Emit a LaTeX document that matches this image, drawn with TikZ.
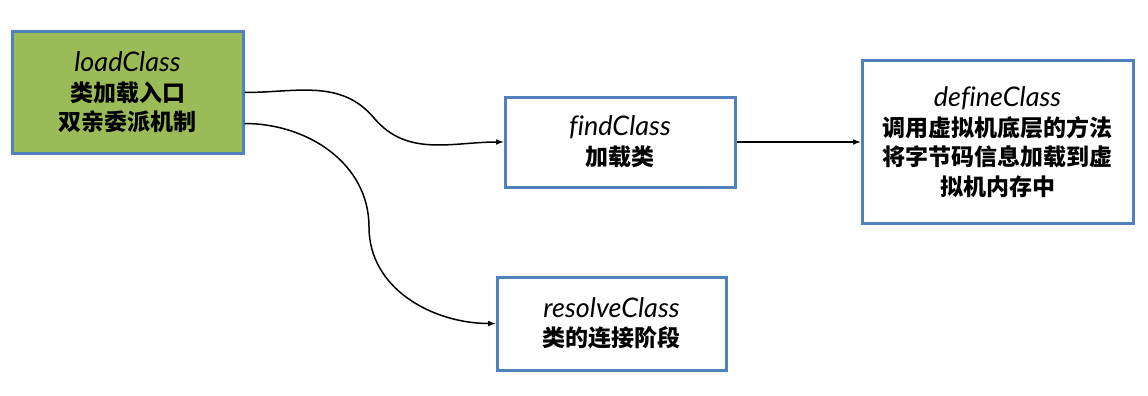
\documentclass[tikz,border=0pt]{standalone}
\usepackage{fontspec}
\newfontfamily\cjk{Noto Sans CJK SC}
\newfontfamily\latinf{Lato}[Ligatures=NoCommon]
\definecolor{boxblue}{HTML}{4F81BD}
\definecolor{boxgreen}{HTML}{9BBB59}
\tikzset{
 box/.style={draw=boxblue,line width=3pt,fill=white,align=center,inner sep=2pt,
  font=\fontsize{23}{29.5}\selectfont\cjk\bfseries},
 greenbox/.style={box,fill=boxgreen}
}
\newcommand{\clsname}[1]{{\fontsize{27}{29.5}\selectfont\latinf\mdseries\itshape #1}}

\begin{document}
\begin{tikzpicture}[x=1pt,y=-1pt,>=latex]
 \useasboundingbox (0,0) rectangle (1148,396);
 \node[greenbox,minimum width=231pt,minimum height=121pt] (load) at (127.5,92.5)
  {\clsname{loadClass}\\类加载入口\\双亲委派机制};
 \node[box,minimum width=230pt,minimum height=90pt] (find) at (620,142)
  {\clsname{findClass}\\加载类};
 \node[box,minimum width=271pt,minimum height=162pt,text width=260pt] (define) at (997.5,142)
  {\clsname{defineClass}\\调用虚拟机底层的方法\\将字节码信息加载到虚\\拟机内存中};
 \node[box,minimum width=229pt,minimum height=93pt] (resolve) at (611.5,323.5)
  {\clsname{resolveClass}\\类的连接阶段};
 \coordinate (k1) at (374,118);
 \coordinate (k2) at (369,227);
 \draw[->,line width=1.5pt] (load.east) to[out=0,in=130] (k1) to[out=-50,in=180] (find.west);
 \draw[->,line width=1.5pt] ([yshift=-31pt]load.east) to[out=0,in=90] (k2) to[out=-90,in=180] (resolve.west);
 \draw[->,line width=1.5pt] (find.east) -- (define.west);
\end{tikzpicture}
\end{document}
